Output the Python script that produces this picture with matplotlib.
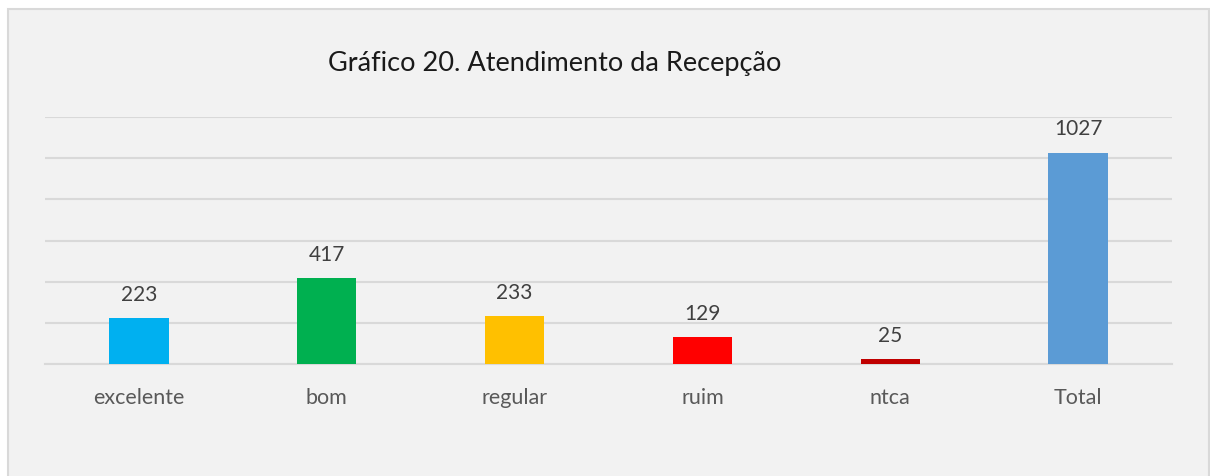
import matplotlib.pyplot as plt
from matplotlib.patches import Rectangle

categorias = ["excelente", "bom", "regular", "ruim", "ntca", "Total"]
valores = [223, 417, 233, 129, 25, 1027]
cores = ["#00b0f0", "#00b050", "#ffc000", "#ff0000", "#c00000", "#5b9bd5"]

plt.rcParams['font.family'] = ['Lato', 'DejaVu Sans']

fig = plt.figure(figsize=(12.1, 4.76), dpi=100, facecolor="white")
W, H = 1210, 476
# fundo do gráfico com borda
fig.patches.append(Rectangle((8 / W, -0.05), 1201 / W, 1 - 8.5 / H + 0.05,
                             transform=fig.transFigure, facecolor="#f2f2f2",
                             edgecolor="#d9d9d9", linewidth=1.5, zorder=-10))

ax = fig.add_axes([45 / W, 1 - 364 / H, 1127 / W, 247 / H])
ax.set_facecolor("none")
x = range(len(categorias))
ax.bar(x, valores, width=0.315, color=cores, zorder=3)

for i, v in enumerate(valores):
    ax.annotate(str(v), (i, v), xytext=(0, 9.5), textcoords="offset points",
                ha="center", va="bottom", fontsize=15, color="#404040")

ax.set_xlim(-0.5, 5.5)
ax.set_ylim(0, 1200)
ax.set_yticks(range(0, 1201, 200))
ax.yaxis.grid(True, color="#d9d9d9", linewidth=1.5, zorder=0)
ax.set_axisbelow(True)
ax.tick_params(axis="y", left=False, labelleft=False)
ax.set_xticks(list(x))
ax.set_xticklabels(categorias, fontsize=15.5, color="#595959")
ax.tick_params(axis="x", length=0, pad=17)
for s in ["top", "right", "left"]:
    ax.spines[s].set_visible(False)
ax.spines["bottom"].set_color("#d9d9d9")
ax.spines["bottom"].set_linewidth(1.5)

fig.text(555 / W, 1 - 63 / H, "Gráfico 20. Atendimento da Recepção",
         ha="center", va="center", fontsize=19.5, color="#1a1a1a")

fig.savefig("out.png", dpi=100)
